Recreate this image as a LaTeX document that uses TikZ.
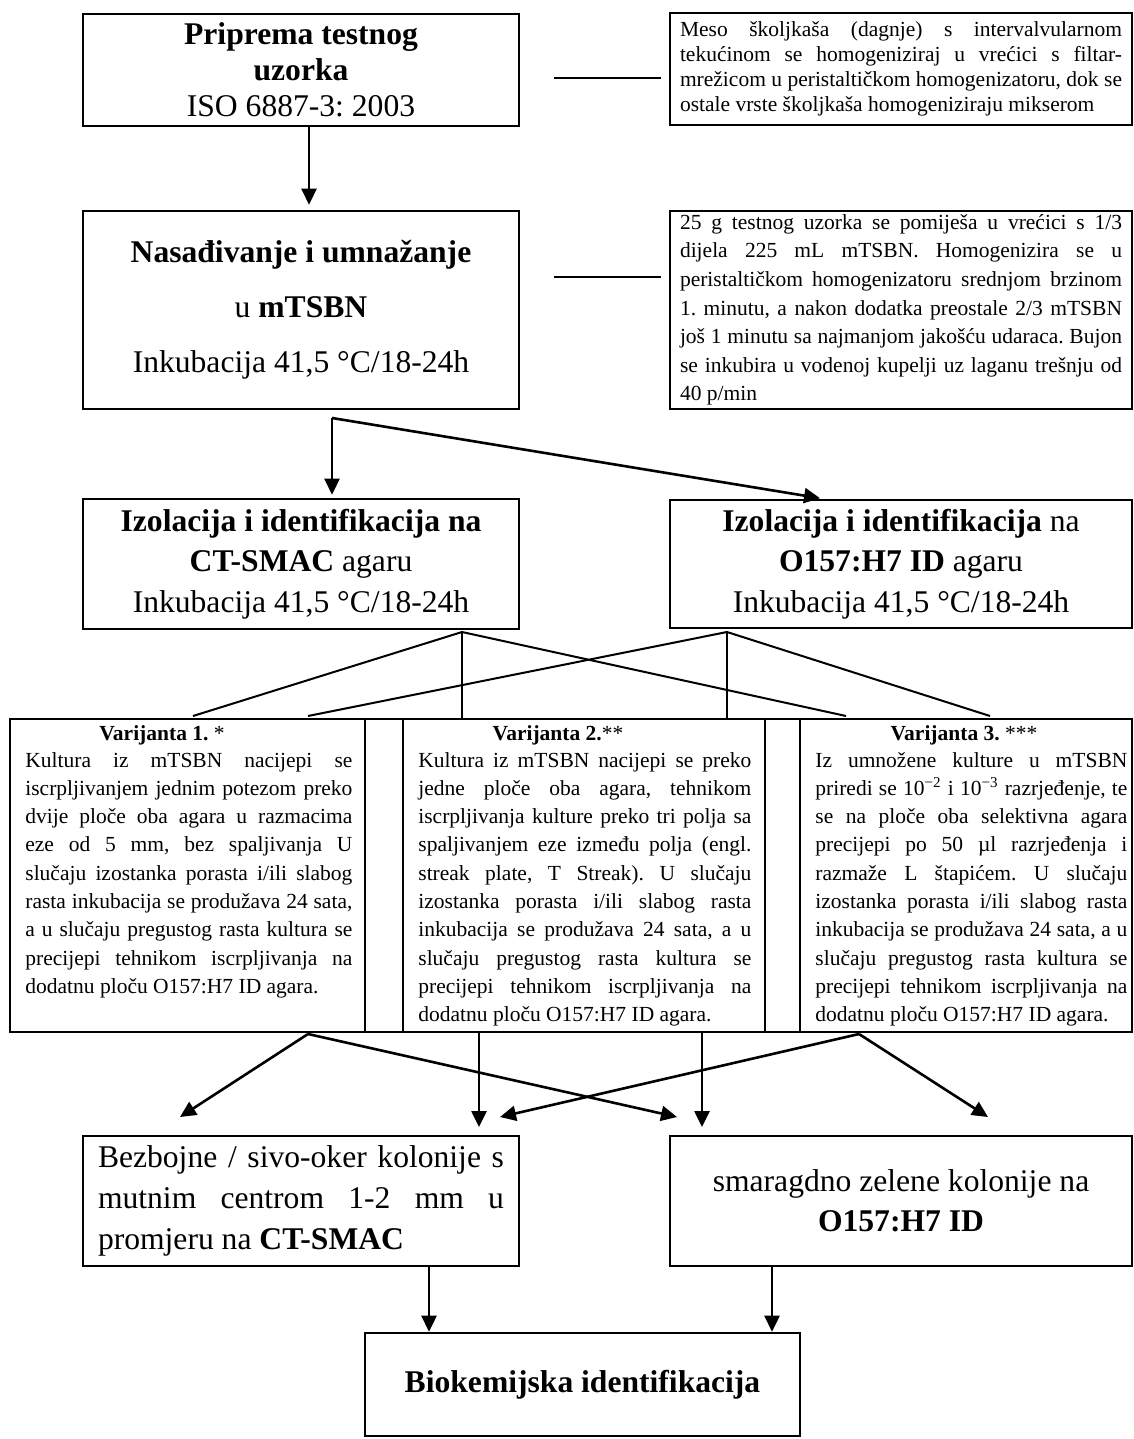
\documentclass[tikz,border=0pt]{standalone}
\usepackage{fontspec}
\setmainfont{Liberation Serif}
\usetikzlibrary{arrows.meta}
\newcommand{\bigtext}[1]{\fontsize{15.8pt}{#1}\selectfont}
\newcommand{\smalltext}{\fontsize{10.75pt}{14.15pt}\selectfont}
\newcommand{\rbtext}[1]{\fontsize{10.75pt}{#1}\selectfont}
\tolerance=10000
\hyphenpenalty=10000
\frenchspacing
\begin{document}
\begin{tikzpicture}[x=0.5pt,y=-0.5pt,
  box/.style={draw,line width=1.3pt,inner sep=0pt,align=center},
  cellbox/.style={draw,line width=1.3pt,inner sep=0pt},
  conn/.style={line width=1.3pt},
  arr/.style={line width=1.3pt,-{Triangle[length=8pt,width=7.5pt]}},
  fan/.style={line width=1pt},
  jtext/.style={inner sep=0pt,align=justify,font=\smalltext},
  vtitle/.style={anchor=base,inner sep=0pt,font=\smalltext},
]
\useasboundingbox[fill=white] (0,0) rectangle (1134,1439);

% left column boxes
\node[box,minimum width=218pt,minimum height=56pt,font=\bigtext{18pt}] (b1) at (301,70)
  {\textbf{Priprema testnog}\\\textbf{uzorka}\\ISO 6887-3: 2003};
\node[box,minimum width=218pt,minimum height=99pt,font=\bigtext{27.5pt}] (b2) at (301,310)
  {\textbf{Nasađivanje i umnažanje}\\u \textbf{mTSBN}\\Inkubacija 41,5 °C/18-24h};

% right text boxes
\node[draw,line width=1.3pt,inner sep=0pt,minimum width=231pt,minimum height=56pt,
  text width=221pt,align=justify,font=\rbtext{12.5pt}] (rb1) at (901,69)
  {Meso školjkaša (dagnje) s intervalvularnom\linebreak
   tekućinom se homogeniziraj u vrećici s filtar-\linebreak
   mrežicom u peristaltičkom homogenizatoru, dok se\linebreak
   ostale vrste školjkaša homogeniziraju mikserom};
\node[draw,line width=1.3pt,inner sep=0pt,minimum width=231pt,minimum height=99pt,
  text width=221pt,align=justify,font=\rbtext{14.3pt}] (rb2) at (901,310)
  {25 g testnog uzorka se pomiješa u vrećici s 1/3\linebreak
   dijela 225 mL mTSBN. Homogenizira se u\linebreak
   peristaltičkom homogenizatoru srednjom brzinom\linebreak
   1. minutu, a nakon dodatka preostale 2/3 mTSBN\linebreak
   još 1 minutu sa najmanjom jakošću udaraca. Bujon\linebreak
   se inkubira u vodenoj kupelji uz laganu trešnju od\linebreak
   40 p/min};

% isolation boxes
\node[box,minimum width=218pt,minimum height=65pt,font=\bigtext{20.25pt}] (b3l) at (301,564)
  {\textbf{Izolacija i identifikacija na}\\\textbf{CT-SMAC} agaru\\Inkubacija 41,5 °C/18-24h};
\node[box,minimum width=231pt,minimum height=64pt,font=\bigtext{20.25pt}] (b3r) at (901,564)
  {\textbf{Izolacija i identifikacija} na\\\textbf{O157:H7 ID} agaru\\Inkubacija 41,5 °C/18-24h};

% variant table
\node[cellbox,minimum width=177.5pt,minimum height=156.5pt] (v1) at (187.5,875.5) {};
\node[cellbox,minimum width=19pt,minimum height=156.5pt] (s1) at (384,875.5) {};
\node[cellbox,minimum width=181pt,minimum height=156.5pt] (v2) at (584,875.5) {};
\node[cellbox,minimum width=17.5pt,minimum height=156.5pt] (s2) at (782.5,875.5) {};
\node[cellbox,minimum width=166pt,minimum height=156.5pt] (v3) at (966,875.5) {};

\node[vtitle] (t1) at (162,740) {\textbf{Varijanta 1.} *};
\node[vtitle] (t2) at (558,740) {\textbf{Varijanta 2.}**};
\node[vtitle] (t3) at (964,740) {\textbf{Varijanta 3.} ***};

\node[jtext,anchor=base west,text width=163.5pt] (p1) at (25,767)
  {Kultura iz mTSBN nacijepi se\linebreak
   iscrpljivanjem jednim potezom preko\linebreak
   dvije ploče oba agara u razmacima\linebreak
   eze od 5 mm, bez spaljivanja U\linebreak
   slučaju izostanka porasta i/ili slabog\linebreak
   rasta inkubacija se produžava 24 sata,\linebreak
   a u slučaju pregustog rasta kultura se\linebreak
   precijepi tehnikom iscrpljivanja na\linebreak
   dodatnu ploču O157:H7 ID agara.};
\node[jtext,anchor=base west,text width=166.5pt] (p2) at (418,767)
  {Kultura iz mTSBN nacijepi se preko\linebreak
   jedne ploče oba agara, tehnikom\linebreak
   iscrpljivanja kulture preko tri polja sa\linebreak
   spaljivanjem eze između polja (engl.\linebreak
   streak plate, T Streak). U slučaju\linebreak
   izostanka porasta i/ili slabog rasta\linebreak
   inkubacija se produžava 24 sata, a u\linebreak
   slučaju pregustog rasta kultura se\linebreak
   precijepi tehnikom iscrpljivanja na\linebreak
   dodatnu ploču O157:H7 ID agara.};
\node[jtext,anchor=base west,text width=156pt] (p3) at (815,767)
  {Iz umnožene kulture u mTSBN\linebreak
   priredi se 10\textsuperscript{−2} i 10\textsuperscript{−3} razrjeđenje, te\linebreak
   se na ploče oba selektivna agara\linebreak
   precijepi po 50 µl razrjeđenja i\linebreak
   razmaže L štapićem. U slučaju\linebreak
   izostanka porasta i/ili slabog rasta\linebreak
   inkubacija se produžava 24 sata, a u\linebreak
   slučaju pregustog rasta kultura se\linebreak
   precijepi tehnikom iscrpljivanja na\linebreak
   dodatnu ploču O157:H7 ID agara.};

% colony boxes
\node[box,minimum width=218pt,minimum height=65pt,text width=203pt,align=justify,
  font=\bigtext{20.5pt}] (b4l) at (301,1201)
  {Bezbojne / sivo-oker kolonije s\linebreak
   mutnim centrom 1-2 mm u\linebreak
   promjeru na \textbf{CT-SMAC}};
\node[box,minimum width=231pt,minimum height=65pt,font=\bigtext{20pt}] (b4r) at (901,1201)
  {smaragdno zelene kolonije na\\\textbf{O157:H7 ID}};

\node[box,minimum width=217.5pt,minimum height=51.5pt,font=\bigtext{20pt}] (b5) at (582.5,1384.5)
  {\textbf{Biokemijska identifikacija}};

% connectors top
\draw[conn,shorten <=17pt,shorten >=4pt] ([yshift=-4pt]b1.east) -- ([yshift=-4pt]b1.east -| rb1.west);
\draw[conn,shorten <=17pt,shorten >=4pt] ([yshift=16.5pt]b2.east) -- ([yshift=16.5pt]b2.east -| rb2.west);
\draw[arr,shorten >=2.5pt] ([xshift=4pt]b1.south) -- ([xshift=4pt]b2.north);

\coordinate (split) at (332,418);
\draw[arr,shorten >=1.5pt] (split) -- (split |- b3l.north);
\draw[arr,shorten >=1.5pt] (split) -- ([xshift=-39pt]b3r.north);

% fan lines to the table
\coordinate (fanA) at (462,632);
\coordinate (fanB) at (727,632);
\coordinate (ea1) at (193,716);
\coordinate (ea3) at (846,716);
\coordinate (eb1) at (308,716);
\coordinate (eb3) at (990,716);
\draw[fan] (ea1) -- (fanA) -- (ea3);
\draw[fan] (fanA) -- (fanA |- v2.north);
\draw[fan] (eb1) -- (fanB) -- (eb3);
\draw[fan] (fanB) -- (fanB |- v2.north);

% arrows from the table
\coordinate (fanC) at (308,1034);
\coordinate (fanD) at (859,1034);
\coordinate (tc1) at (180,1117);
\coordinate (tc2) at (677,1117);
\coordinate (td1) at (500,1117);
\coordinate (td2) at (988,1117);
\coordinate (tg1) at (479,1127);
\coordinate (tg2) at (702,1127);
\draw[arr] (fanC) -- (tc1);
\draw[arr] (fanC) -- (tc2);
\draw[arr] (fanD) -- (td1);
\draw[arr] (fanD) -- (td2);
\draw[arr] (tg1 |- v2.south) -- (tg1);
\draw[arr] (tg2 |- v2.south) -- (tg2);

% arrows to final box
\draw[arr] ([xshift=64pt]b4l.south) -- ([xshift=-76.75pt]b5.north);
\draw[arr] ([xshift=-64.5pt]b4r.south) -- ([xshift=94.75pt]b5.north);
\end{tikzpicture}
\end{document}
